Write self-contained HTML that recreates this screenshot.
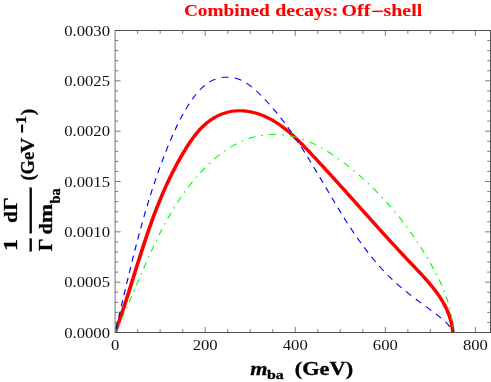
<!DOCTYPE html>
<html><head><meta charset="utf-8"><style>
html,body{margin:0;padding:0;background:#fff;}
svg{display:block;font-family:"Liberation Serif",serif;will-change:transform;}
</style></head><body>
<svg width="491" height="382" viewBox="0 0 491 382">
<rect width="491" height="382" fill="#fff"/>
<defs><clipPath id="c"><rect x="115.1" y="30.5" width="375.4" height="302.5"/></clipPath></defs>
<g fill="none" clip-path="url(#c)"><g transform="scale(1.165,1)">
<path d="M98.80 332.50 L99.53 330.16 L100.25 327.83 L100.97 325.49 L101.68 323.16 L102.37 320.82 L103.07 318.49 L103.75 316.15 L104.43 313.82 L105.11 311.49 L105.77 309.15 L106.43 306.82 L107.09 304.49 L107.74 302.15 L108.39 299.82 L109.04 297.49 L109.68 295.16 L110.31 292.83 L110.95 290.50 L111.58 288.18 L112.21 285.85 L112.83 283.53 L113.46 281.20 L114.08 278.88 L114.70 276.56 L115.33 274.23 L115.95 271.92 L116.57 269.60 L117.19 267.28 L117.82 264.96 L118.44 262.65 L119.07 260.34 L119.70 258.03 L120.33 255.72 L120.96 253.41 L121.59 251.11 L122.23 248.80 L122.87 246.50 L123.52 244.20 L124.17 241.90 L124.82 239.61 L125.48 237.31 L126.15 235.02 L126.82 232.73 L127.50 230.45 L128.18 228.16 L128.87 225.88 L129.57 223.60 L130.27 221.32 L130.98 219.05 L131.70 216.78 L132.43 214.51 L133.16 212.24 L133.91 209.98 L134.66 207.72 L135.43 205.46 L136.20 203.20 L136.99 200.95 L137.79 198.70 L138.59 196.46 L139.41 194.21 L140.24 191.97 L141.08 189.74 L141.94 187.51 L142.81 185.28 L143.69 183.05 L144.58 180.83 L145.49 178.61 L146.41 176.39 L147.35 174.18 L148.30 171.97 L149.27 169.77 L150.25 167.57 L151.25 165.37 L152.27 163.18 L153.30 160.99 L154.35 158.81 L155.41 156.63 L156.50 154.45 L157.60 152.28 L158.72 150.11 L159.86 147.96 L161.02 145.82 L162.21 143.69 L163.42 141.60 L164.66 139.53 L165.93 137.50 L167.23 135.51 L168.57 133.56 L169.93 131.66 L171.34 129.82 L172.78 128.04 L174.27 126.32 L175.79 124.67 L177.36 123.10 L178.97 121.61 L180.63 120.20 L182.33 118.88 L184.08 117.64 L185.86 116.50 L187.67 115.45 L189.52 114.50 L191.39 113.65 L193.30 112.91 L195.23 112.26 L197.18 111.73 L199.15 111.31 L201.14 111.00 L203.15 110.81 L205.16 110.73 L207.19 110.76 L209.22 110.89 L211.25 111.13 L213.28 111.46 L215.30 111.89 L217.32 112.41 L219.33 113.02 L221.32 113.71 L223.29 114.49 L225.24 115.34 L227.17 116.27 L229.06 117.28 L230.93 118.35 L232.77 119.48 L234.58 120.68 L236.36 121.94 L238.12 123.25 L239.85 124.62 L241.55 126.04 L243.24 127.50 L244.90 129.01 L246.54 130.56 L248.16 132.15 L249.76 133.77 L251.34 135.43 L252.91 137.12 L254.46 138.83 L256.00 140.56 L257.53 142.32 L259.04 144.09 L260.54 145.88 L262.03 147.68 L263.52 149.48 L264.99 151.29 L266.46 153.11 L267.93 154.92 L269.39 156.73 L270.84 158.55 L272.29 160.36 L273.74 162.17 L275.18 163.98 L276.61 165.79 L278.04 167.60 L279.47 169.41 L280.89 171.22 L282.31 173.02 L283.73 174.83 L285.14 176.64 L286.55 178.44 L287.96 180.25 L289.37 182.06 L290.77 183.86 L292.17 185.67 L293.56 187.47 L294.96 189.28 L296.35 191.08 L297.74 192.88 L299.13 194.69 L300.52 196.49 L301.91 198.29 L303.29 200.09 L304.68 201.90 L306.06 203.70 L307.44 205.50 L308.83 207.30 L310.21 209.10 L311.59 210.90 L312.98 212.70 L314.36 214.50 L315.75 216.30 L317.13 218.10 L318.52 219.90 L319.90 221.69 L321.29 223.49 L322.68 225.29 L324.07 227.09 L325.46 228.88 L326.86 230.68 L328.26 232.48 L329.65 234.28 L331.06 236.07 L332.46 237.87 L333.87 239.66 L335.28 241.46 L336.69 243.26 L338.10 245.05 L339.52 246.85 L340.95 248.64 L342.37 250.44 L343.81 252.23 L345.24 254.03 L346.68 255.82 L348.12 257.62 L349.57 259.41 L351.03 261.21 L352.49 263.00 L353.95 264.79 L355.42 266.59 L356.88 268.39 L358.35 270.19 L359.81 271.99 L361.27 273.81 L362.71 275.63 L364.15 277.45 L365.56 279.29 L366.96 281.14 L368.35 283.01 L369.71 284.88 L371.04 286.78 L372.35 288.69 L373.62 290.62 L374.87 292.56 L376.08 294.53 L377.25 296.53 L378.38 298.54 L379.47 300.58 L380.51 302.65 L381.50 304.74 L382.45 306.86 L383.34 309.01 L384.17 311.20 L384.95 313.42 L385.66 315.67 L386.32 317.96 L386.90 320.28 L387.42 322.64 L387.87 325.04 L388.24 327.49 L388.54 329.97 L388.76 332.50" stroke="#ff0000" stroke-width="3.15" stroke-linejoin="round"/>
<path d="M98.80 332.50 L99.33 329.93 L99.85 327.35 L100.38 324.77 L100.90 322.19 L101.42 319.60 L101.95 317.02 L102.47 314.43 L102.99 311.84 L103.52 309.25 L104.04 306.65 L104.57 304.06 L105.09 301.46 L105.62 298.87 L106.14 296.27 L106.67 293.67 L107.20 291.07 L107.73 288.47 L108.26 285.87 L108.79 283.26 L109.33 280.66 L109.87 278.06 L110.41 275.45 L110.95 272.85 L111.49 270.25 L112.04 267.64 L112.59 265.04 L113.14 262.44 L113.70 259.84 L114.26 257.23 L114.82 254.63 L115.39 252.03 L115.96 249.44 L116.53 246.84 L117.11 244.24 L117.69 241.65 L118.28 239.05 L118.87 236.46 L119.47 233.87 L120.07 231.28 L120.68 228.70 L121.29 226.11 L121.91 223.53 L122.53 220.95 L123.16 218.37 L123.79 215.80 L124.43 213.23 L125.08 210.66 L125.73 208.09 L126.39 205.53 L127.05 202.97 L127.73 200.41 L128.41 197.86 L129.09 195.31 L129.79 192.76 L130.49 190.22 L131.20 187.68 L131.91 185.14 L132.64 182.61 L133.37 180.09 L134.11 177.56 L134.86 175.05 L135.62 172.53 L136.38 170.02 L137.16 167.52 L137.94 165.02 L138.74 162.53 L139.54 160.04 L140.35 157.56 L141.17 155.08 L142.00 152.61 L142.85 150.14 L143.70 147.68 L144.56 145.22 L145.43 142.78 L146.31 140.33 L147.21 137.90 L148.11 135.47 L149.03 133.04 L149.97 130.63 L150.92 128.22 L151.90 125.81 L152.89 123.42 L153.91 121.03 L154.96 118.65 L156.04 116.28 L157.15 113.92 L158.30 111.56 L159.48 109.22 L160.70 106.88 L161.96 104.55 L163.27 102.23 L164.62 99.93 L166.02 97.66 L167.47 95.44 L168.97 93.28 L170.53 91.20 L172.14 89.21 L173.80 87.33 L175.53 85.56 L177.32 83.94 L179.18 82.46 L181.10 81.15 L183.09 80.02 L185.14 79.08 L187.23 78.32 L189.37 77.75 L191.53 77.36 L193.71 77.16 L195.90 77.16 L198.08 77.34 L200.25 77.71 L202.39 78.28 L204.49 79.04 L206.55 79.98 L208.56 81.11 L210.53 82.38 L212.46 83.81 L214.35 85.36 L216.20 87.02 L218.01 88.77 L219.79 90.61 L221.53 92.51 L223.24 94.46 L224.92 96.44 L226.57 98.43 L228.19 100.44 L229.79 102.46 L231.35 104.48 L232.89 106.51 L234.41 108.55 L235.90 110.60 L237.37 112.66 L238.82 114.73 L240.24 116.80 L241.65 118.89 L243.04 120.99 L244.41 123.10 L245.76 125.21 L247.10 127.34 L248.42 129.48 L249.73 131.63 L251.03 133.79 L252.31 135.97 L253.59 138.15 L254.85 140.35 L256.11 142.55 L257.35 144.77 L258.59 147.00 L259.82 149.24 L261.04 151.48 L262.26 153.74 L263.47 156.00 L264.67 158.27 L265.87 160.55 L267.07 162.83 L268.26 165.12 L269.44 167.42 L270.62 169.72 L271.80 172.02 L272.98 174.33 L274.15 176.64 L275.33 178.95 L276.50 181.27 L277.67 183.58 L278.84 185.90 L280.01 188.22 L281.19 190.54 L282.36 192.85 L283.54 195.17 L284.72 197.49 L285.90 199.80 L287.09 202.11 L288.28 204.41 L289.47 206.72 L290.67 209.02 L291.87 211.31 L293.08 213.60 L294.30 215.88 L295.52 218.15 L296.75 220.42 L297.99 222.68 L299.24 224.94 L300.49 227.18 L301.76 229.42 L303.03 231.64 L304.32 233.86 L305.61 236.06 L306.92 238.26 L308.24 240.44 L309.57 242.61 L310.92 244.76 L312.27 246.91 L313.64 249.04 L315.03 251.15 L316.43 253.25 L317.84 255.34 L319.27 257.40 L320.72 259.46 L322.18 261.49 L323.66 263.51 L325.16 265.51 L326.68 267.49 L328.21 269.45 L329.77 271.39 L331.34 273.31 L332.94 275.21 L334.55 277.09 L336.18 278.94 L337.84 280.78 L339.52 282.59 L341.22 284.37 L342.95 286.14 L344.69 287.88 L346.46 289.59 L348.25 291.29 L350.06 292.96 L351.88 294.62 L353.72 296.26 L355.56 297.89 L357.41 299.50 L359.27 301.11 L361.13 302.71 L362.99 304.30 L364.84 305.89 L366.70 307.48 L368.54 309.06 L370.38 310.65 L372.20 312.25 L374.01 313.85 L375.80 315.45 L377.58 317.07 L379.32 318.71 L381.01 320.39 L382.63 322.13 L384.15 323.95 L385.54 325.87 L386.79 327.93 L387.87 330.13 L388.76 332.50" stroke="#0000ff" stroke-width="1.0" stroke-dasharray="6.15 5.25" stroke-dashoffset="7.5"/>
<path d="M98.80 332.50 L99.66 330.48 L100.51 328.46 L101.36 326.43 L102.20 324.39 L103.03 322.34 L103.85 320.28 L104.68 318.22 L105.49 316.15 L106.30 314.08 L107.11 312.00 L107.91 309.91 L108.71 307.82 L109.51 305.73 L110.30 303.62 L111.09 301.52 L111.88 299.41 L112.66 297.30 L113.45 295.18 L114.23 293.06 L115.01 290.94 L115.79 288.82 L116.57 286.69 L117.35 284.56 L118.13 282.43 L118.92 280.30 L119.70 278.17 L120.49 276.04 L121.27 273.91 L122.06 271.78 L122.85 269.64 L123.65 267.51 L124.45 265.38 L125.25 263.26 L126.06 261.13 L126.87 259.01 L127.68 256.88 L128.50 254.76 L129.33 252.65 L130.16 250.53 L131.00 248.42 L131.84 246.32 L132.69 244.22 L133.55 242.12 L134.42 240.03 L135.29 237.94 L136.17 235.86 L137.06 233.78 L137.97 231.71 L138.87 229.65 L139.79 227.59 L140.72 225.55 L141.66 223.50 L142.61 221.47 L143.58 219.44 L144.55 217.43 L145.53 215.42 L146.53 213.42 L147.54 211.42 L148.57 209.44 L149.60 207.47 L150.65 205.51 L151.72 203.56 L152.79 201.62 L153.89 199.69 L155.00 197.78 L156.12 195.87 L157.26 193.98 L158.41 192.10 L159.59 190.23 L160.78 188.37 L161.98 186.53 L163.21 184.70 L164.45 182.89 L165.71 181.09 L166.99 179.31 L168.28 177.54 L169.60 175.78 L170.94 174.04 L172.29 172.32 L173.67 170.61 L175.07 168.92 L176.49 167.25 L177.93 165.60 L179.39 163.97 L180.87 162.36 L182.37 160.78 L183.89 159.22 L185.43 157.70 L186.99 156.20 L188.56 154.74 L190.16 153.32 L191.78 151.93 L193.41 150.59 L195.06 149.28 L196.74 148.02 L198.43 146.80 L200.13 145.63 L201.86 144.51 L203.60 143.45 L205.36 142.43 L207.13 141.47 L208.93 140.57 L210.74 139.73 L212.56 138.95 L214.40 138.23 L216.26 137.57 L218.12 136.97 L220.00 136.43 L221.88 135.96 L223.78 135.54 L225.68 135.19 L227.59 134.90 L229.50 134.67 L231.42 134.50 L233.34 134.39 L235.26 134.35 L237.18 134.36 L239.10 134.44 L241.01 134.58 L242.93 134.78 L244.83 135.05 L246.73 135.37 L248.63 135.76 L250.51 136.21 L252.39 136.72 L254.25 137.29 L256.11 137.91 L257.97 138.58 L259.81 139.31 L261.64 140.09 L263.47 140.92 L265.28 141.79 L267.09 142.71 L268.88 143.67 L270.67 144.68 L272.44 145.73 L274.21 146.81 L275.97 147.94 L277.71 149.09 L279.45 150.29 L281.17 151.51 L282.89 152.77 L284.59 154.05 L286.28 155.36 L287.96 156.70 L289.63 158.06 L291.28 159.44 L292.93 160.84 L294.56 162.26 L296.18 163.70 L297.79 165.15 L299.39 166.62 L300.97 168.10 L302.54 169.59 L304.10 171.09 L305.64 172.60 L307.18 174.13 L308.70 175.66 L310.21 177.21 L311.70 178.76 L313.18 180.33 L314.66 181.91 L316.12 183.49 L317.56 185.09 L319.00 186.70 L320.42 188.32 L321.83 189.95 L323.23 191.59 L324.62 193.24 L326.00 194.91 L327.36 196.58 L328.72 198.26 L330.06 199.95 L331.39 201.65 L332.71 203.36 L334.02 205.09 L335.32 206.82 L336.60 208.56 L337.88 210.31 L339.14 212.07 L340.40 213.84 L341.64 215.62 L342.87 217.41 L344.09 219.21 L345.30 221.02 L346.50 222.83 L347.69 224.66 L348.87 226.50 L350.04 228.34 L351.20 230.20 L352.34 232.06 L353.48 233.93 L354.61 235.81 L355.73 237.70 L356.84 239.60 L357.93 241.51 L359.02 243.43 L360.10 245.35 L361.17 247.29 L362.23 249.23 L363.28 251.18 L364.32 253.14 L365.35 255.10 L366.37 257.08 L367.38 259.06 L368.38 261.06 L369.38 263.06 L370.36 265.07 L371.33 267.08 L372.28 269.11 L373.22 271.14 L374.15 273.19 L375.05 275.24 L375.94 277.31 L376.81 279.38 L377.66 281.46 L378.49 283.55 L379.29 285.66 L380.07 287.77 L380.83 289.90 L381.55 292.03 L382.25 294.18 L382.92 296.33 L383.56 298.50 L384.17 300.68 L384.75 302.87 L385.29 305.08 L385.80 307.29 L386.27 309.52 L386.71 311.76 L387.11 314.01 L387.46 316.28 L387.78 318.55 L388.05 320.84 L388.29 323.15 L388.47 325.47 L388.61 327.80 L388.71 330.14 L388.76 332.50" stroke="#00ff00" stroke-width="1.0" stroke-dasharray="1.6 5 6.4 5" stroke-dashoffset="10"/>
</g></g>
<path d="M114.6 30.5H491.0M114.6 332.5H491.0M490.5 30.5V332.5" fill="none" stroke="#555" stroke-width="1"/><path d="M115.1 30.5V332.5" fill="none" stroke="#808080" stroke-width="1.1"/>
<path d="M137.62 332.50 v-3.30 M137.62 30.50 v3.30 M160.14 332.50 v-3.30 M160.14 30.50 v3.30 M182.66 332.50 v-3.30 M182.66 30.50 v3.30 M205.18 332.50 v-5.50 M205.18 30.50 v5.50 M227.69 332.50 v-3.30 M227.69 30.50 v3.30 M250.21 332.50 v-3.30 M250.21 30.50 v3.30 M272.73 332.50 v-3.30 M272.73 30.50 v3.30 M295.25 332.50 v-5.50 M295.25 30.50 v5.50 M317.77 332.50 v-3.30 M317.77 30.50 v3.30 M340.29 332.50 v-3.30 M340.29 30.50 v3.30 M362.81 332.50 v-3.30 M362.81 30.50 v3.30 M385.33 332.50 v-5.50 M385.33 30.50 v5.50 M407.84 332.50 v-3.30 M407.84 30.50 v3.30 M430.36 332.50 v-3.30 M430.36 30.50 v3.30 M452.88 332.50 v-3.30 M452.88 30.50 v3.30 M475.40 332.50 v-5.50 M475.40 30.50 v5.50 M115.10 332.50 h5.50 M490.50 332.50 h-5.50 M115.10 322.43 h3.30 M490.50 322.43 h-3.30 M115.10 312.37 h3.30 M490.50 312.37 h-3.30 M115.10 302.30 h3.30 M490.50 302.30 h-3.30 M115.10 292.23 h3.30 M490.50 292.23 h-3.30 M115.10 282.17 h5.50 M490.50 282.17 h-5.50 M115.10 272.10 h3.30 M490.50 272.10 h-3.30 M115.10 262.03 h3.30 M490.50 262.03 h-3.30 M115.10 251.97 h3.30 M490.50 251.97 h-3.30 M115.10 241.90 h3.30 M490.50 241.90 h-3.30 M115.10 231.83 h5.50 M490.50 231.83 h-5.50 M115.10 221.77 h3.30 M490.50 221.77 h-3.30 M115.10 211.70 h3.30 M490.50 211.70 h-3.30 M115.10 201.63 h3.30 M490.50 201.63 h-3.30 M115.10 191.57 h3.30 M490.50 191.57 h-3.30 M115.10 181.50 h5.50 M490.50 181.50 h-5.50 M115.10 171.43 h3.30 M490.50 171.43 h-3.30 M115.10 161.37 h3.30 M490.50 161.37 h-3.30 M115.10 151.30 h3.30 M490.50 151.30 h-3.30 M115.10 141.23 h3.30 M490.50 141.23 h-3.30 M115.10 131.17 h5.50 M490.50 131.17 h-5.50 M115.10 121.10 h3.30 M490.50 121.10 h-3.30 M115.10 111.03 h3.30 M490.50 111.03 h-3.30 M115.10 100.97 h3.30 M490.50 100.97 h-3.30 M115.10 90.90 h3.30 M490.50 90.90 h-3.30 M115.10 80.83 h5.50 M490.50 80.83 h-5.50 M115.10 70.77 h3.30 M490.50 70.77 h-3.30 M115.10 60.70 h3.30 M490.50 60.70 h-3.30 M115.10 50.63 h3.30 M490.50 50.63 h-3.30 M115.10 40.57 h3.30 M490.50 40.57 h-3.30 M115.10 30.50 h5.50 M490.50 30.50 h-5.50" stroke="#444" stroke-width="0.7" fill="none"/>
<g font-size="15.3px" fill="#111"><text transform="translate(115.10,350.20) scale(1.09,1)" text-anchor="middle" >0</text><text transform="translate(205.18,350.20) scale(1.09,1)" text-anchor="middle" >200</text><text transform="translate(295.25,350.20) scale(1.09,1)" text-anchor="middle" >400</text><text transform="translate(385.33,350.20) scale(1.09,1)" text-anchor="middle" >600</text><text transform="translate(475.40,350.20) scale(1.09,1)" text-anchor="middle" >800</text><text transform="translate(110.00,337.70) scale(1.09,1)" text-anchor="end" >0.0000</text><text transform="translate(110.00,287.37) scale(1.09,1)" text-anchor="end" >0.0005</text><text transform="translate(110.00,237.03) scale(1.09,1)" text-anchor="end" >0.0010</text><text transform="translate(110.00,186.70) scale(1.09,1)" text-anchor="end" >0.0015</text><text transform="translate(110.00,136.37) scale(1.09,1)" text-anchor="end" >0.0020</text><text transform="translate(110.00,86.03) scale(1.09,1)" text-anchor="end" >0.0025</text><text transform="translate(110.00,35.70) scale(1.09,1)" text-anchor="end" >0.0030</text></g>
<g font-weight="bold" fill="#ff0000" stroke="#ff0000" stroke-width="0.1"><text transform="translate(183.9,15.9) scale(1.136,1)" font-size="17px" text-anchor="start">Combined</text><text transform="translate(275.3,15.9) scale(1.172,1)" font-size="17px" text-anchor="start">decays:</text><text transform="translate(341.6,15.9) scale(1.172,1)" font-size="17px" text-anchor="start">Off</text><rect x="372.3" y="10.6" width="10.8" height="1.5" stroke="none"/><text transform="translate(383.5,15.9) scale(1.172,1)" font-size="17px" text-anchor="start">shell</text></g>
<g font-weight="bold" font-size="18.5px" fill="#000" stroke="#000" stroke-width="0.3">
<text transform="translate(250.2,375.0) scale(1.2,1)" font-size="18.5px" text-anchor="start" font-style="italic">m</text>
<text transform="translate(267.0,379.4) scale(1.2,1)" font-size="13.3px" text-anchor="start">ba</text>
<text transform="translate(294.8,375.0) scale(1.207,1)" font-size="18.5px" text-anchor="start">(GeV)</text>
<text transform="translate(17.0,244.9) rotate(-90) scale(1.24,1)" font-size="19.5px" text-anchor="middle">1</text>
<text transform="translate(17.0,210.1) rotate(-90) scale(1.1,1)" font-size="19.5px" text-anchor="middle">dΓ</text>
<text transform="translate(51.8,244.9) rotate(-90) scale(1.0,1)" font-size="19.5px" text-anchor="middle">Γ</text>
<text transform="translate(51.8,234.4) rotate(-90) scale(1.045,1)" font-size="19.5px" text-anchor="start">d</text>
<text transform="translate(51.8,223.3) rotate(-90) scale(1.205,1)" font-size="19.5px" text-anchor="start">m</text>
<text transform="translate(60.0,203.6) rotate(-90) scale(1.03,1)" font-size="14px" text-anchor="start">ba</text>
<text transform="translate(34.3,180.6) rotate(-90) scale(0.95,1)" font-size="19.5px" text-anchor="start">(Ge</text>
<text transform="translate(34.3,152.9) rotate(-90) scale(1.08,1)" font-size="19.5px" text-anchor="start">V</text>
<rect x="21.1" y="124.6" width="2" height="8" stroke="none"/>
<text transform="translate(26.4,123.7) rotate(-90) scale(1.0,1)" font-size="15.5px" text-anchor="start">1</text>
<text transform="translate(34.3,115.3) rotate(-90) scale(1.0,1)" font-size="19.5px" text-anchor="start">)</text>
<rect x="29.8" y="238.6" width="2" height="12.8"/>
<rect x="29.8" y="187.8" width="2" height="45.5"/>
</g>
</svg>
</body></html>
